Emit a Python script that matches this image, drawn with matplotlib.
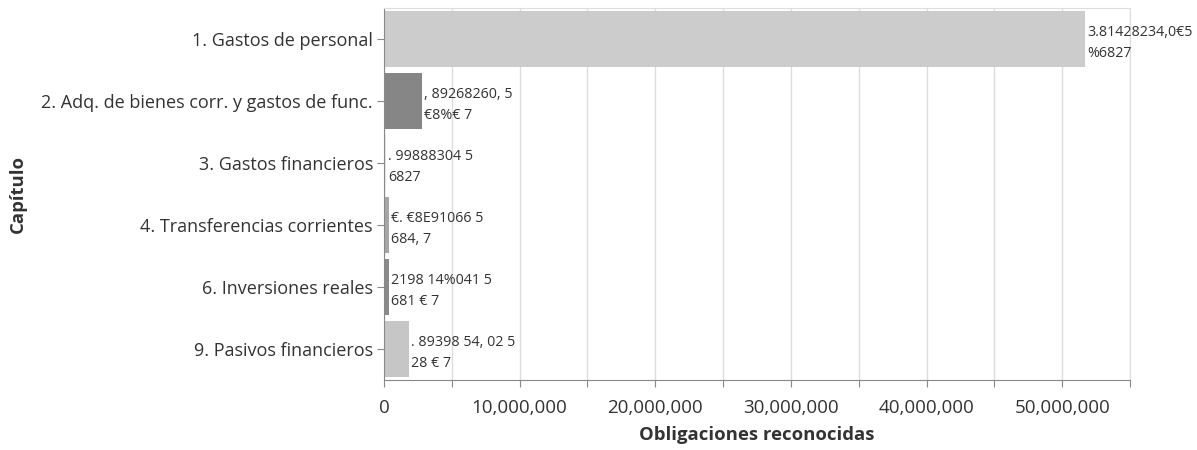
import matplotlib
matplotlib.use("Agg")
import matplotlib.pyplot as plt
from matplotlib.ticker import FuncFormatter, MultipleLocator

plt.rcParams['font.family'] = ['Open Sans', 'DejaVu Sans']

# Données
capitulos = ["1. Gastos de personal",
             "2. Adq. de bienes corr. y gastos de func.",
             "3. Gastos financieros",
             "4. Transferencias corrientes",
             "6. Inversiones reales",
             "9. Pasivos financieros"]
obligaciones = [51700000, 2800000, 150000, 370000, 370000, 1840000]
colores = ["#cccccc", "#868686", "#ebebeb", "#a6a6a6", "#8a8a8a", "#c6c6c6"]
etiquetas = ["3.81428234,0€5\n%6827",
             ", 89268260, 5\n€8%€ 7",
             ". 99888304 5\n6827",
             "€. €8E91066 5\n684, 7",
             "2198 14%041 5\n681 € 7",
             ". 89398 54, 02 5\n28 € 7"]

fig = plt.figure(figsize=(11.97, 4.5), dpi=100)
ax = fig.add_axes([384 / 1197, 70 / 450, (1130 - 384) / 1197, 372 / 450])

pos = list(range(len(capitulos)))
ax.barh(pos, obligaciones, height=0.9, color=colores, zorder=2)

# Étiquettes des barres
for p, v, t in zip(pos, obligaciones, etiquetas):
    ax.text(v + 150000, p + 0.07, t, va='center', ha='left', fontsize=10.3,
            color='#333333', linespacing=1.55, zorder=3)

ax.set_ylim(len(capitulos) - 0.5, -0.5)
ax.set_xlim(0, 55000000)
ax.set_yticks(pos)
ax.set_yticklabels(capitulos, fontsize=13, color='#333333')

ax.xaxis.set_major_locator(MultipleLocator(5000000))
ax.xaxis.set_major_formatter(FuncFormatter(
    lambda x, _: f"{int(x):,}" if round(x) % 10000000 == 0 else ""))

ax.grid(axis='x', color='#dddddd', linewidth=1, zorder=0)
for s in ['top', 'right']:
    ax.spines[s].set_color('#dddddd')
for s in ['left', 'bottom']:
    ax.spines[s].set_color('#888888')
ax.tick_params(axis='both', colors='#888888', length=5, labelcolor='#333333')
ax.tick_params(axis='x', pad=9, labelsize=13.5)
ax.tick_params(axis='y', pad=3)

fig.canvas.draw()
lbls = ax.get_xticklabels()
lbls[0].set_ha('left')

ax.set_xlabel("Obligaciones reconocidas", fontsize=13.3, fontweight='bold',
              color='#333333', labelpad=6)
ax.set_ylabel("Capítulo", fontsize=13.3, fontweight='bold', color='#333333')
ax.yaxis.set_label_coords(-357 / 746, 0.5)

fig.savefig("out.png", dpi=100)
